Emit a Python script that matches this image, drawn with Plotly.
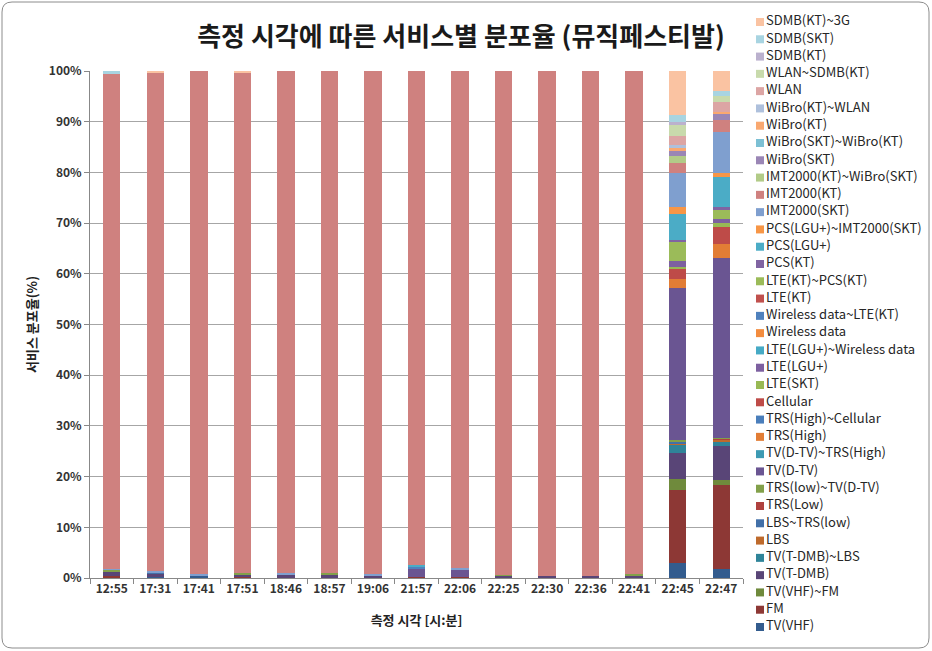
import plotly.graph_objects as go

categories = ["12:55", "17:31", "17:41", "17:51", "18:46", "18:57", "19:06", "21:57",
              "22:06", "22:25", "22:30", "22:36", "22:41", "22:45", "22:47"]

tv_vhf          = [0, 0.2, 0.4, 0, 0, 0, 0, 0, 0, 0, 0, 0, 0, 3.0, 1.8]
fm              = [0.3, 0, 0, 0.2, 0, 0, 0, 0.2, 0.2, 0, 0, 0, 0, 14.4, 16.5]
tv_vhf_fm       = [0, 0, 0, 0, 0, 0, 0, 0, 0, 0, 0, 0, 0, 2.1, 1.0]
tv_tdmb         = [1.0, 0.5, 0, 0.5, 0.6, 0.5, 0.4, 0, 0, 0.4, 0.3, 0.3, 0.4, 5.1, 6.7]
tv_tdmb_lbs     = [0, 0, 0, 0, 0, 0, 0, 0, 0, 0, 0, 0, 0, 1.6, 1.0]
lbs             = [0, 0, 0, 0, 0, 0, 0, 0, 0, 0, 0, 0, 0, 0.4, 0.3]
lbs_trs_low     = [0, 0.4, 0, 0, 0, 0, 0, 0, 0, 0, 0, 0, 0, 0.3, 0.1]
trs_low         = [0, 0, 0, 0, 0, 0, 0, 0, 0, 0, 0, 0, 0, 0.1, 0.1]
trs_low_dtv     = [0.3, 0, 0, 0.2, 0, 0.4, 0, 0, 0, 0.2, 0, 0, 0.3, 0.3, 0.2]
tv_dtv          = [0, 0, 0, 0, 0, 0, 0, 1.5, 1.4, 0, 0, 0, 0, 29.9, 35.5]
tv_dtv_trs_high = [0] * 15
trs_high        = [0, 0, 0, 0, 0, 0, 0, 0, 0, 0, 0, 0, 0, 1.8, 2.6]
trs_high_cell   = [0] * 15
cellular        = [0, 0, 0, 0, 0, 0, 0, 0, 0, 0, 0, 0, 0, 2.1, 3.5]
lte_skt         = [0, 0, 0, 0, 0, 0, 0, 0, 0, 0, 0, 0, 0, 0.2, 0.7]
lte_lgu         = [0, 0, 0, 0, 0, 0, 0, 0, 0, 0, 0, 0, 0, 1.2, 0.9]
lte_lgu_wd      = [0] * 15
wireless_data   = [0] * 15
wd_lte_kt       = [0, 0, 0, 0, 0, 0, 0, 0.4, 0, 0, 0, 0, 0, 0, 0]
lte_kt          = [0] * 15
lte_kt_pcs_kt   = [0, 0, 0, 0, 0, 0, 0, 0, 0, 0, 0, 0, 0, 3.8, 1.6]
pcs_kt          = [0, 0, 0, 0, 0, 0, 0, 0, 0, 0, 0, 0, 0, 0.4, 0.6]
pcs_lgu         = [0, 0, 0, 0, 0, 0, 0, 0.4, 0, 0, 0, 0, 0, 5.1, 5.9]
pcs_lgu_imt_skt = [0, 0, 0, 0, 0, 0, 0, 0, 0, 0, 0, 0, 0, 1.4, 0.8]
imt_skt         = [0.2, 0.3, 0.3, 0, 0.3, 0, 0.3, 0, 0.4, 0, 0, 0, 0, 6.7, 8.1]
imt_kt          = [97.7, 98.2, 99.3, 98.8, 99.1, 99.1, 99.3, 97.5, 98.0, 99.4, 99.7, 99.7, 99.3, 2.0, 2.4]
imt_kt_wibro    = [0, 0, 0, 0, 0, 0, 0, 0, 0, 0, 0, 0, 0, 1.3, 0]
wibro_skt       = [0, 0, 0, 0, 0, 0, 0, 0, 0, 0, 0, 0, 0, 1.0, 1.4]
wibro_skt_kt    = [0] * 15
wibro_kt        = [0, 0, 0, 0, 0, 0, 0, 0, 0, 0, 0, 0, 0, 0.6, 0.3]
wibro_kt_wlan   = [0, 0, 0, 0, 0, 0, 0, 0, 0, 0, 0, 0, 0, 0.6, 0]
wlan            = [0, 0, 0, 0, 0, 0, 0, 0, 0, 0, 0, 0, 0, 1.8, 1.8]
wlan_sdmb_kt    = [0, 0, 0, 0, 0, 0, 0, 0, 0, 0, 0, 0, 0, 2.1, 1.2]
sdmb_kt         = [0, 0, 0, 0, 0, 0, 0, 0, 0, 0, 0, 0, 0, 0.6, 0]
sdmb_skt        = [0.5, 0, 0, 0, 0, 0, 0, 0, 0, 0, 0, 0, 0, 1.4, 1.0]
sdmb_kt_3g      = [0, 0.4, 0, 0.3, 0, 0, 0, 0, 0, 0, 0, 0, 0, 8.7, 4.0]

series_names = [
    "TV(VHF)", "FM", "TV(VHF)~FM", "TV(T-DMB)", "TV(T-DMB)~LBS", "LBS",
    "LBS~TRS(low)", "TRS(Low)", "TRS(low)~TV(D-TV)", "TV(D-TV)", "TV(D-TV)~TRS(High)", "TRS(High)",
    "TRS(High)~Cellular", "Cellular", "LTE(SKT)", "LTE(LGU+)", "LTE(LGU+)~Wireless data", "Wireless data",
    "Wireless data~LTE(KT)", "LTE(KT)", "LTE(KT)~PCS(KT)", "PCS(KT)", "PCS(LGU+)", "PCS(LGU+)~IMT2000(SKT)",
    "IMT2000(SKT)", "IMT2000(KT)", "IMT2000(KT)~WiBro(SKT)", "WiBro(SKT)", "WiBro(SKT)~WiBro(KT)", "WiBro(KT)",
    "WiBro(KT)~WLAN", "WLAN", "WLAN~SDMB(KT)", "SDMB(KT)", "SDMB(SKT)", "SDMB(KT)~3G",
]
series_values = [
    tv_vhf, fm, tv_vhf_fm, tv_tdmb, tv_tdmb_lbs, lbs,
    lbs_trs_low, trs_low, trs_low_dtv, tv_dtv, tv_dtv_trs_high, trs_high,
    trs_high_cell, cellular, lte_skt, lte_lgu, lte_lgu_wd, wireless_data,
    wd_lte_kt, lte_kt, lte_kt_pcs_kt, pcs_kt, pcs_lgu, pcs_lgu_imt_skt,
    imt_skt, imt_kt, imt_kt_wibro, wibro_skt, wibro_skt_kt, wibro_kt,
    wibro_kt_wlan, wlan, wlan_sdmb_kt, sdmb_kt, sdmb_skt, sdmb_kt_3g,
]
colors = [
    "#335C8E", "#8D3835", "#6F8A3C", "#594577", "#2F8499", "#BE6A2C",
    "#4270A8", "#AF413E", "#82A04A", "#6A5592", "#3D9AB3", "#E27D35",
    "#4A7EBB", "#BE4B48", "#98B954", "#7D60A0", "#46AAC5", "#F38C3E",
    "#4F81BD", "#C0504D", "#9BBB59", "#8064A2", "#4BACC6", "#F79646",
    "#7F9FCF", "#CF817F", "#B2CB88", "#9A86B5", "#7CC0D4", "#F9A870",
    "#AEC0DC", "#DCA5A4", "#C8DAAC", "#BBB1CE", "#A8D4E1", "#FAC3A2",
]

FONT = "Noto Sans CJK KR, Noto Sans, sans-serif"
W, H = 932, 651
ML, MR, MT, MB = 90, 2, 10, 10
PW, PH = W - ML - MR, H - MT - MB


def px_x(x):
    return (x - ML) / PW


def px_y(y):
    return (H - MB - y) / PH


fig = go.Figure()
for name, vals, col in zip(series_names, series_values, colors):
    fig.add_trace(go.Bar(
        x=categories, y=vals, name=name, marker=dict(color=col, line=dict(width=0)),
        showlegend=False, xaxis="x", yaxis="y",
    ))

# legend drawn as a scatter on its own axes
n = len(series_names)
fig.add_trace(go.Scatter(
    x=[0.45] * n, y=list(range(n)), mode="markers+text",
    marker=dict(symbol="square", size=8, color=colors, line=dict(width=0)),
    text=series_names, textposition="middle right",
    textfont=dict(family=FONT, size=13, color="#262626"),
    showlegend=False, hoverinfo="skip", xaxis="x2", yaxis="y2", cliponaxis=False,
))

# rounded outer border
x0, x1, y0, y1, r = 2, 929, 2, 648, 10
pts = [
    f"M {px_x(x0 + r)} {px_y(y0)}", f"L {px_x(x1 - r)} {px_y(y0)}",
    f"Q {px_x(x1)} {px_y(y0)} {px_x(x1)} {px_y(y0 + r)}",
    f"L {px_x(x1)} {px_y(y1 - r)}",
    f"Q {px_x(x1)} {px_y(y1)} {px_x(x1 - r)} {px_y(y1)}",
    f"L {px_x(x0 + r)} {px_y(y1)}",
    f"Q {px_x(x0)} {px_y(y1)} {px_x(x0)} {px_y(y1 - r)}",
    f"L {px_x(x0)} {px_y(y0 + r)}",
    f"Q {px_x(x0)} {px_y(y0)} {px_x(x0 + r)} {px_y(y0)} Z",
]
fig.add_shape(type="path", path=" ".join(pts), xref="paper", yref="paper",
              line=dict(color="#8C8C8C", width=1), layer="below")

fig.update_layout(
    width=W, height=H,
    margin=dict(l=ML, r=MR, t=MT, b=MB),
    paper_bgcolor="white", plot_bgcolor="white",
    barmode="stack", bargap=0.6,
    font=dict(family=FONT, size=12, color="#333333"),
    title=dict(text="<b>측정 시각에 따른 서비스별 분포율 (뮤직페스티발)</b>",
               x=461 / W, xanchor="center", y=1 - 37 / H, yanchor="middle", yref="container",
               font=dict(family=FONT, size=26, color="#1a1a1a")),
    xaxis=dict(domain=[0, px_x(743)], type="category", tickson="boundaries",
               ticks="outside", ticklen=5, tickcolor="#888888",
               showline=True, linecolor="#888888", linewidth=1,
               tickfont=dict(family=FONT, size=12, color="#333333", weight="bold"),
               title=dict(text="<b>측정 시각 [시:분]</b>", font=dict(family=FONT, size=13, color="#222222"),
                          standoff=20),
               automargin=False, showgrid=False),
    yaxis=dict(domain=[px_y(578), px_y(71)], range=[0, 100], dtick=10, ticksuffix="%",
               ticks="outside", ticklen=5, tickcolor="#888888",
               showline=True, linecolor="#888888", linewidth=1,
               showgrid=True, gridcolor="#A6A6A6", gridwidth=1, zeroline=False,
               tickfont=dict(family=FONT, size=12, color="#333333", weight="bold"),
               title=dict(text="<b>서비스 분포율(%)</b>", font=dict(family=FONT, size=13, color="#222222"),
                          standoff=8),
               automargin=False),
    xaxis2=dict(domain=[px_x(752), 1], range=[0, 10], visible=False, fixedrange=True),
    yaxis2=dict(domain=[px_y(635.65), px_y(13.35)], range=[-0.5, n - 0.5], visible=False,
                fixedrange=True, anchor="x2"),
)

fig.write_html("out.html", config={"displayModeBar": False},
               post_script="document.body.style.margin='0';")
